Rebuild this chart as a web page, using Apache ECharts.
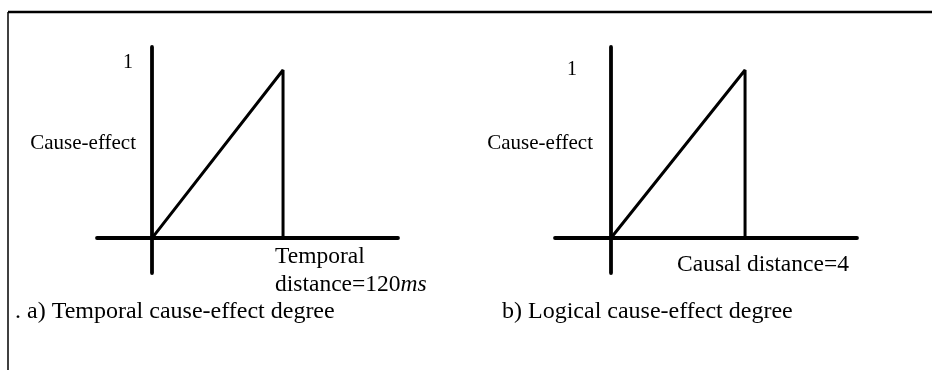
<!DOCTYPE html>
<html>
<head>
<meta charset="utf-8">
<script src="https://cdn.jsdelivr.net/npm/echarts@6/dist/echarts.min.js"></script>
<style>
  html, body { margin: 0; padding: 0; background: #fff; }
  #chart { width: 932px; height: 370px; }
</style>
</head>
<body>
<div id="chart"></div>
<script>
// cause-effect degree curves
var temporalX = [0, 120, 120];   // ms
var temporalY = [0, 1, 0];
var causalX = [0, 4, 4];         // causal distance
var causalY = [0, 1, 0];
var yTickValues = [1];

var FONT = '"Liberation Serif", "Times New Roman", serif';

function pairs(xs, ys) {
  return xs.map(function (x, i) { return [x, ys[i]]; });
}

var chart = echarts.init(document.getElementById('chart'));

var axisLine = { onZero: false, lineStyle: { color: '#000', width: 3.8 } };

var option = {
  backgroundColor: '#fff',
  animation: false,
  title: [
    { text: '. a) Temporal cause-effect degree', left: 10, top: 295,
      textStyle: { fontFamily: FONT, fontSize: 24, fontWeight: 'normal', color: '#000' } },
    { text: 'b) Logical cause-effect degree', left: 497, top: 295,
      textStyle: { fontFamily: FONT, fontSize: 24, fontWeight: 'normal', color: '#000' } }
  ],
  grid: [
    { left: 97, right: 534, top: 47, bottom: 97, outerBoundsMode: 'none' },
    { left: 555, right: 75, top: 47, bottom: 97, outerBoundsMode: 'none' }
  ],
  xAxis: [
    {
      type: 'value', gridIndex: 0, min: -50.4, max: 225.3, offset: -35,
      axisLine: axisLine, axisTick: { show: false }, splitLine: { show: false },
      axisLabel: {
        customValues: [120],
        align: 'left', margin: 5,
        padding: [0, 0, 0, -8],
        formatter: function () { return '{n|Temporal}\n{n|distance=120}{i|ms}'; },
        rich: {
          n: { fontFamily: FONT, fontSize: 23.5, color: '#000', lineHeight: 28 },
          i: { fontFamily: FONT, fontSize: 23.5, color: '#000', lineHeight: 28, fontStyle: 'italic' }
        }
      }
    },
    {
      type: 'value', gridIndex: 1, min: -1.67, max: 7.34, offset: -35,
      axisLine: axisLine, axisTick: { show: false }, splitLine: { show: false },
      axisLabel: {
        customValues: [4],
        align: 'left', margin: 15,
        padding: [0, 0, 0, -68],
        formatter: function () { return 'Causal distance=4'; },
        fontFamily: FONT, fontSize: 23.5, color: '#000'
      }
    }
  ],
  yAxis: [
    {
      type: 'value', gridIndex: 0, min: -0.208, max: 1.137, offset: -55,
      axisLine: axisLine, axisTick: { show: false }, splitLine: { show: false },
      axisLabel: {
        customValues: yTickValues, margin: 19,
        verticalAlign: 'bottom', lineHeight: 14,
        fontFamily: FONT, fontSize: 20, color: '#000'
      },
      name: 'Cause-effect', nameLocation: 'middle', nameRotate: 0, nameGap: 16,
      nameMoveOverlap: false,
      nameTextStyle: { fontFamily: FONT, fontSize: 21, color: '#000',
        verticalAlign: 'bottom', lineHeight: 34 }
    },
    {
      type: 'value', gridIndex: 1, min: -0.208, max: 1.137, offset: -56,
      axisLine: axisLine, axisTick: { show: false }, splitLine: { show: false },
      axisLabel: {
        customValues: yTickValues, margin: 34,
        fontFamily: FONT, fontSize: 20, color: '#000'
      },
      name: 'Cause-effect', nameLocation: 'middle', nameRotate: 0, nameGap: 18,
      nameMoveOverlap: false,
      nameTextStyle: { fontFamily: FONT, fontSize: 21, color: '#000',
        verticalAlign: 'bottom', lineHeight: 34 }
    }
  ],
  graphic: [
    { type: 'line', shape: { x1: 8, y1: 12, x2: 932, y2: 12 }, style: { stroke: '#000', lineWidth: 2.5 } },
    { type: 'line', shape: { x1: 8, y1: 12, x2: 8, y2: 370 }, style: { stroke: '#000', lineWidth: 1.5 } }
  ],
  series: [
    {
      name: 'Temporal', type: 'line', xAxisIndex: 0, yAxisIndex: 0,
      data: pairs(temporalX, temporalY), showSymbol: false, symbol: 'none',
      lineStyle: { color: '#000', width: 3 }
    },
    {
      name: 'Logical', type: 'line', xAxisIndex: 1, yAxisIndex: 1,
      data: pairs(causalX, causalY), showSymbol: false, symbol: 'none',
      lineStyle: { color: '#000', width: 3 }
    }
  ]
};

chart.setOption(option);
</script>
</body>
</html>
